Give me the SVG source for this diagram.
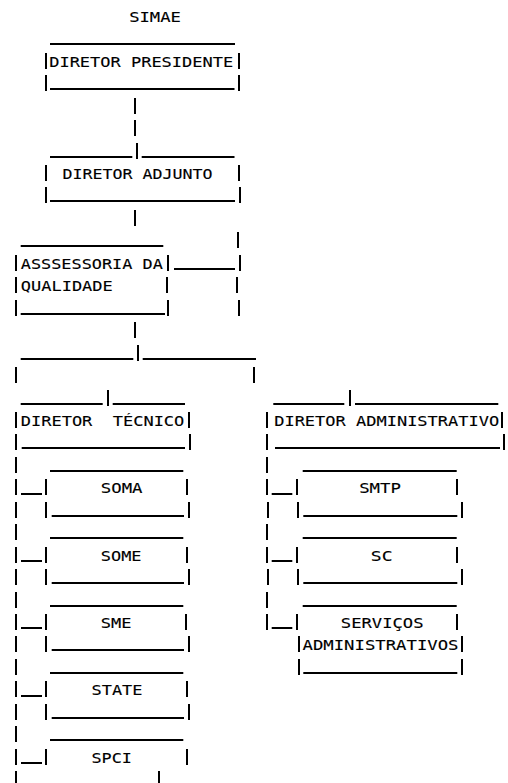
<svg xmlns="http://www.w3.org/2000/svg" xmlns:xlink="http://www.w3.org/1999/xlink" width="508" height="783" viewBox="0 0 508 783">
<style>
.b{stroke:#000;stroke-width:2;fill:none}
.t{font-family:"DejaVu Sans Mono",monospace;font-size:13.8px;fill:#000;stroke:#000;stroke-width:0.12}
</style>
<defs>
<line id="p" class="b" x1="0" y1="-14" x2="0" y2="2"/>
</defs>
<rect width="508" height="783" fill="#fff"/>
<g id="simae">
<text class="t" x="129.2" y="22" textLength="51.7" lengthAdjust="spacingAndGlyphs">SIMAE</text>
</g>
<g id="diretor-presidente">
<line class="b" x1="50" y1="44" x2="235" y2="44"/>
<use href="#p" x="46" y="67"/><use href="#p" x="239" y="67"/>
<text class="t" x="49.2" y="67" textLength="184" lengthAdjust="spacingAndGlyphs">DIRETOR PRESIDENTE</text>
<use href="#p" x="46" y="89"/><line class="b" x1="50" y1="89" x2="234.5" y2="89"/><use href="#p" x="239" y="89"/>
</g>
<g id="diretor-adjunto">
<line class="b" x1="50" y1="157" x2="132.3" y2="157"/><line class="b" x1="141.7" y1="157" x2="234.5" y2="157"/>
<use href="#p" x="46" y="179"/><use href="#p" x="239" y="179"/>
<text class="t" x="62.5" y="179" textLength="150" lengthAdjust="spacingAndGlyphs">DIRETOR ADJUNTO</text>
<use href="#p" x="46" y="201"/><line class="b" x1="50" y1="201" x2="235" y2="201"/><use href="#p" x="240" y="201"/>
</g>
<g id="assessoria-qualidade">
<line class="b" x1="20.7" y1="246" x2="163.3" y2="246"/>
<use href="#p" x="16" y="269"/><use href="#p" x="168" y="269"/>
<text class="t" x="20.8" y="269" textLength="142" lengthAdjust="spacingAndGlyphs">ASSSESSORIA DA</text>
<use href="#p" x="16" y="291"/><use href="#p" x="167" y="291"/>
<text class="t" x="20.8" y="291" textLength="92" lengthAdjust="spacingAndGlyphs">QUALIDADE</text>
<use href="#p" x="16" y="314"/><line class="b" x1="20.7" y1="314" x2="165" y2="314"/><use href="#p" x="168" y="314"/>
</g>
<g id="diretor-tecnico">
<line class="b" x1="20.7" y1="404" x2="102.7" y2="404"/><line class="b" x1="112.7" y1="404" x2="185" y2="404"/>
<use href="#p" x="16" y="426"/><use href="#p" x="189" y="426"/>
<text class="t" x="20.8" y="426" textLength="163.5" lengthAdjust="spacingAndGlyphs" xml:space="preserve">DIRETOR  TÉCNICO</text>
<use href="#p" x="16" y="448"/><line class="b" x1="21.7" y1="448" x2="185" y2="448"/><use href="#p" x="190" y="448"/>
</g>
<g id="diretor-administrativo">
<line class="b" x1="273.3" y1="404" x2="344.3" y2="404"/><line class="b" x1="355" y1="404" x2="498.3" y2="404"/>
<use href="#p" x="267" y="426"/><use href="#p" x="502" y="426"/>
<text class="t" x="274.2" y="426" textLength="225" lengthAdjust="spacingAndGlyphs">DIRETOR ADMINISTRATIVO</text>
<use href="#p" x="267" y="448"/><line class="b" x1="275" y1="448" x2="500" y2="448"/><use href="#p" x="504" y="448"/>
</g>
<g id="soma">
<line class="b" x1="50" y1="471" x2="183.3" y2="471"/>
<use href="#p" x="46" y="493"/><use href="#p" x="187" y="493"/>
<text class="t" x="100.8" y="493" textLength="41.7" lengthAdjust="spacingAndGlyphs">SOMA</text>
<use href="#p" x="46" y="516"/><line class="b" x1="51.7" y1="516" x2="184" y2="516"/><use href="#p" x="189" y="516"/>
</g>
<g id="some">
<line class="b" x1="50" y1="538" x2="183.3" y2="538"/>
<use href="#p" x="46" y="561"/><use href="#p" x="187" y="561"/>
<text class="t" x="100.8" y="561" textLength="40.7" lengthAdjust="spacingAndGlyphs">SOME</text>
<use href="#p" x="46" y="583"/><line class="b" x1="51.7" y1="583" x2="184" y2="583"/><use href="#p" x="189" y="583"/>
</g>
<g id="sme">
<line class="b" x1="50" y1="606" x2="183.3" y2="606"/>
<use href="#p" x="46" y="628"/><use href="#p" x="186" y="628"/>
<text class="t" x="100.8" y="628" textLength="30.7" lengthAdjust="spacingAndGlyphs">SME</text>
<use href="#p" x="46" y="650"/><line class="b" x1="51.7" y1="650" x2="184" y2="650"/><use href="#p" x="189" y="650"/>
</g>
<g id="state">
<line class="b" x1="50" y1="673" x2="183.3" y2="673"/>
<use href="#p" x="46" y="695"/><use href="#p" x="187" y="695"/>
<text class="t" x="91.5" y="695" textLength="51" lengthAdjust="spacingAndGlyphs">STATE</text>
<use href="#p" x="46" y="718"/><line class="b" x1="51.7" y1="718" x2="184" y2="718"/><use href="#p" x="189" y="718"/>
</g>
<g id="spci">
<line class="b" x1="50" y1="740" x2="183.3" y2="740"/>
<use href="#p" x="46" y="763"/><use href="#p" x="187" y="763"/>
<text class="t" x="91.5" y="763" textLength="40.4" lengthAdjust="spacingAndGlyphs">SPCI</text>
<use href="#p" x="159" y="785"/>
</g>
<g id="smtp">
<line class="b" x1="302.7" y1="471" x2="456.7" y2="471"/>
<use href="#p" x="297" y="493"/><use href="#p" x="457" y="493"/>
<text class="t" x="359.2" y="493" textLength="41.7" lengthAdjust="spacingAndGlyphs">SMTP</text>
<use href="#p" x="298" y="516"/><line class="b" x1="303.3" y1="516" x2="457.3" y2="516"/><use href="#p" x="462" y="516"/>
</g>
<g id="sc">
<line class="b" x1="302.7" y1="538" x2="456.7" y2="538"/>
<use href="#p" x="297" y="561"/><use href="#p" x="457" y="561"/>
<text class="t" x="370.8" y="561" textLength="21.7" lengthAdjust="spacingAndGlyphs">SC</text>
<use href="#p" x="298" y="583"/><line class="b" x1="303.3" y1="583" x2="457.3" y2="583"/><use href="#p" x="462" y="583"/>
</g>
<g id="servicos-administrativos">
<line class="b" x1="302.7" y1="606" x2="456.7" y2="606"/>
<use href="#p" x="297" y="628"/><use href="#p" x="457" y="628"/>
<text class="t" x="340.8" y="628" textLength="82.7" lengthAdjust="spacingAndGlyphs">SERVIÇOS</text>
<use href="#p" x="299" y="650"/><use href="#p" x="462" y="650"/>
<text class="t" x="302.5" y="650" textLength="156" lengthAdjust="spacingAndGlyphs">ADMINISTRATIVOS</text>
<use href="#p" x="299" y="673"/><line class="b" x1="303.3" y1="673" x2="457.3" y2="673"/><use href="#p" x="462" y="673"/>
</g>
<g id="connectors">
<use href="#p" x="135" y="112"/><use href="#p" x="135" y="134"/><use href="#p" x="137" y="157"/>
<use href="#p" x="135" y="224"/>
<use href="#p" x="238" y="246"/>
<line class="b" x1="174" y1="269" x2="235" y2="269"/><use href="#p" x="240" y="269"/>
<use href="#p" x="237" y="291"/><use href="#p" x="239" y="314"/>
<use href="#p" x="135" y="336"/>
<line class="b" x1="20.7" y1="359" x2="133.3" y2="359"/><use href="#p" x="138" y="359"/><line class="b" x1="142.7" y1="359" x2="256" y2="359"/>
<use href="#p" x="16" y="381"/><use href="#p" x="254" y="381"/>
<use href="#p" x="108" y="404"/><use href="#p" x="350" y="404"/>
<use href="#p" x="16" y="471"/><use href="#p" x="16" y="493"/><use href="#p" x="16" y="516"/><use href="#p" x="16" y="538"/><use href="#p" x="16" y="561"/><use href="#p" x="16" y="583"/><use href="#p" x="16" y="606"/><use href="#p" x="16" y="628"/><use href="#p" x="16" y="650"/><use href="#p" x="16" y="673"/><use href="#p" x="16" y="695"/><use href="#p" x="16" y="718"/><use href="#p" x="16" y="740"/><use href="#p" x="16" y="763"/><use href="#p" x="16" y="785"/>
<line class="b" x1="21" y1="494" x2="42" y2="494"/><line class="b" x1="21" y1="561" x2="42" y2="561"/><line class="b" x1="21" y1="628" x2="42" y2="628"/><line class="b" x1="21" y1="696" x2="42" y2="696"/><line class="b" x1="21" y1="763" x2="42" y2="763"/>
<use href="#p" x="267" y="471"/><use href="#p" x="267" y="493"/><use href="#p" x="268" y="516"/><use href="#p" x="267" y="538"/><use href="#p" x="267" y="561"/><use href="#p" x="268" y="583"/><use href="#p" x="267" y="606"/><use href="#p" x="267" y="628"/>
<line class="b" x1="271.7" y1="494" x2="292.3" y2="494"/><line class="b" x1="271.7" y1="561" x2="292.3" y2="561"/><line class="b" x1="271.7" y1="628" x2="292.3" y2="628"/>
</g>
</svg>
